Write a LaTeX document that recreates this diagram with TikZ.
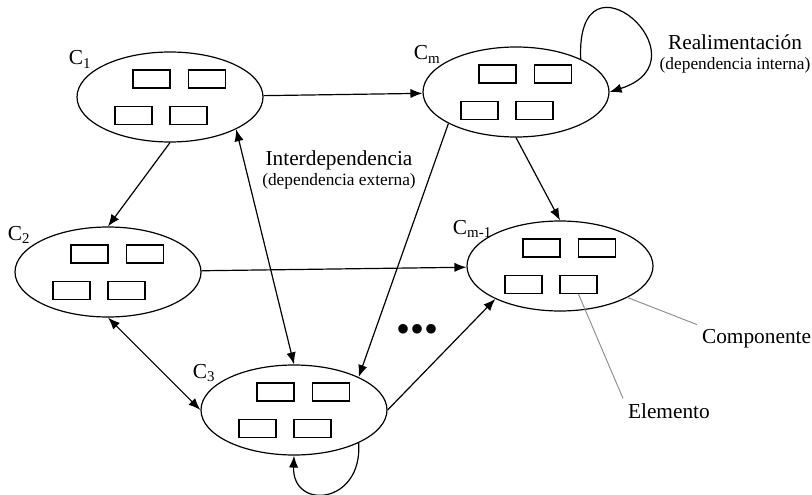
\documentclass[tikz,border=0pt]{standalone}
\usepackage{fontspec}
\setmainfont{Liberation Serif}
\usetikzlibrary{shapes.geometric,arrows.meta}

\begin{document}
\begin{tikzpicture}[x=0.75pt, y=-0.75pt, line width=0.9pt,
    >={Latex[length=9pt,width=7pt]},
    every node/.style={font=\fontsize{16}{19}\selectfont},
    comp/.style={draw, ellipse, inner sep=0pt, minimum width=139.5pt, minimum height=67.5pt},
    elem/.style={draw, rectangle, inner sep=0pt, minimum width=27.75pt, minimum height=13.5pt},
    lbl/.style={anchor=base west, inner sep=1pt},
    nota/.style={draw=black!45, line width=0.7pt}]

    \useasboundingbox (0,0) rectangle (812,495);

    % componentes
    \node[comp] (c1) at (170,97) {};
    \node[comp] (cm) at (516,92) {};
    \node[comp] (c2) at (108,272) {};
    \node[comp] (cmm) at (560,266) {};
    \node[comp] (c3) at (294,410) {};

    \foreach \n in {c1, cm, c2, cmm, c3} {
        \foreach \i/\dx/\dy in {1/-18.5/-18, 2/37/-18, 3/-36.5/18.5, 4/18.5/18.5} {
            \node[elem] (\n-\i) at ([shift={(\dx,\dy)}]\n.center) {};
        }
    }

    \foreach \n/\t/\dx in {c1/1/-103, cm/m/-104, c2/2/-102, c3/3/-103, cmm/m-1/-109} {
        \node[lbl] (\n-lbl) at ([shift={(\dx,-32)}]\n.center) {C\textsubscript{\t}};
    }

    % dependencias entre componentes
    \draw[->] (c1) -- (cm);
    \draw[->] (c1.south) -- (c2.north);
    \draw[<->] (c1.-26) -- (c3.north);
    \draw[->] (c2) -- (cmm);
    \draw[->] (cm.205) -- (c3.27);
    \draw[->] (cm.south) -- (cmm.north);
    \draw[<->] (c2.south) -- (c3.west);
    \draw[->] (c3.east) -- (cmm.207);

    % realimentacion
    \draw[->] (cm.27) .. controls ([shift={(-5,-119)}]cm.27) and ([shift={(101,-32)}]cm.east) .. (cm.east);
    \draw[->] (c3.-27) .. controls ([shift={(4,62)}]c3.-27) and ([shift={(-2,55)}]c3.south) .. (c3.south);

    \node[inner sep=0pt, font=\fontsize{30}{30}\selectfont] (dots) at (417,333)
        {\textbullet\textbullet\textbullet};

    \node[align=center, font=\fontsize{16}{15}\selectfont] (inter) at (339,170)
        {Interdependencia\\{\fontsize{13}{15}\selectfont(dependencia externa)}};
    \node[align=center, font=\fontsize{16}{15}\selectfont] (realim) at (735,54)
        {Realimentación\\{\fontsize{13}{15}\selectfont(dependencia interna)}};

    \node[anchor=west] (complbl) at (697,339) {Componente};
    \node[anchor=west] (elemlbl) at (623,411) {Elemento};
    \draw[nota] (cmm.-25) -- (complbl.north west);
    \draw[nota] (cmm-4.south) -- (elemlbl.north west);
\end{tikzpicture}
\end{document}
